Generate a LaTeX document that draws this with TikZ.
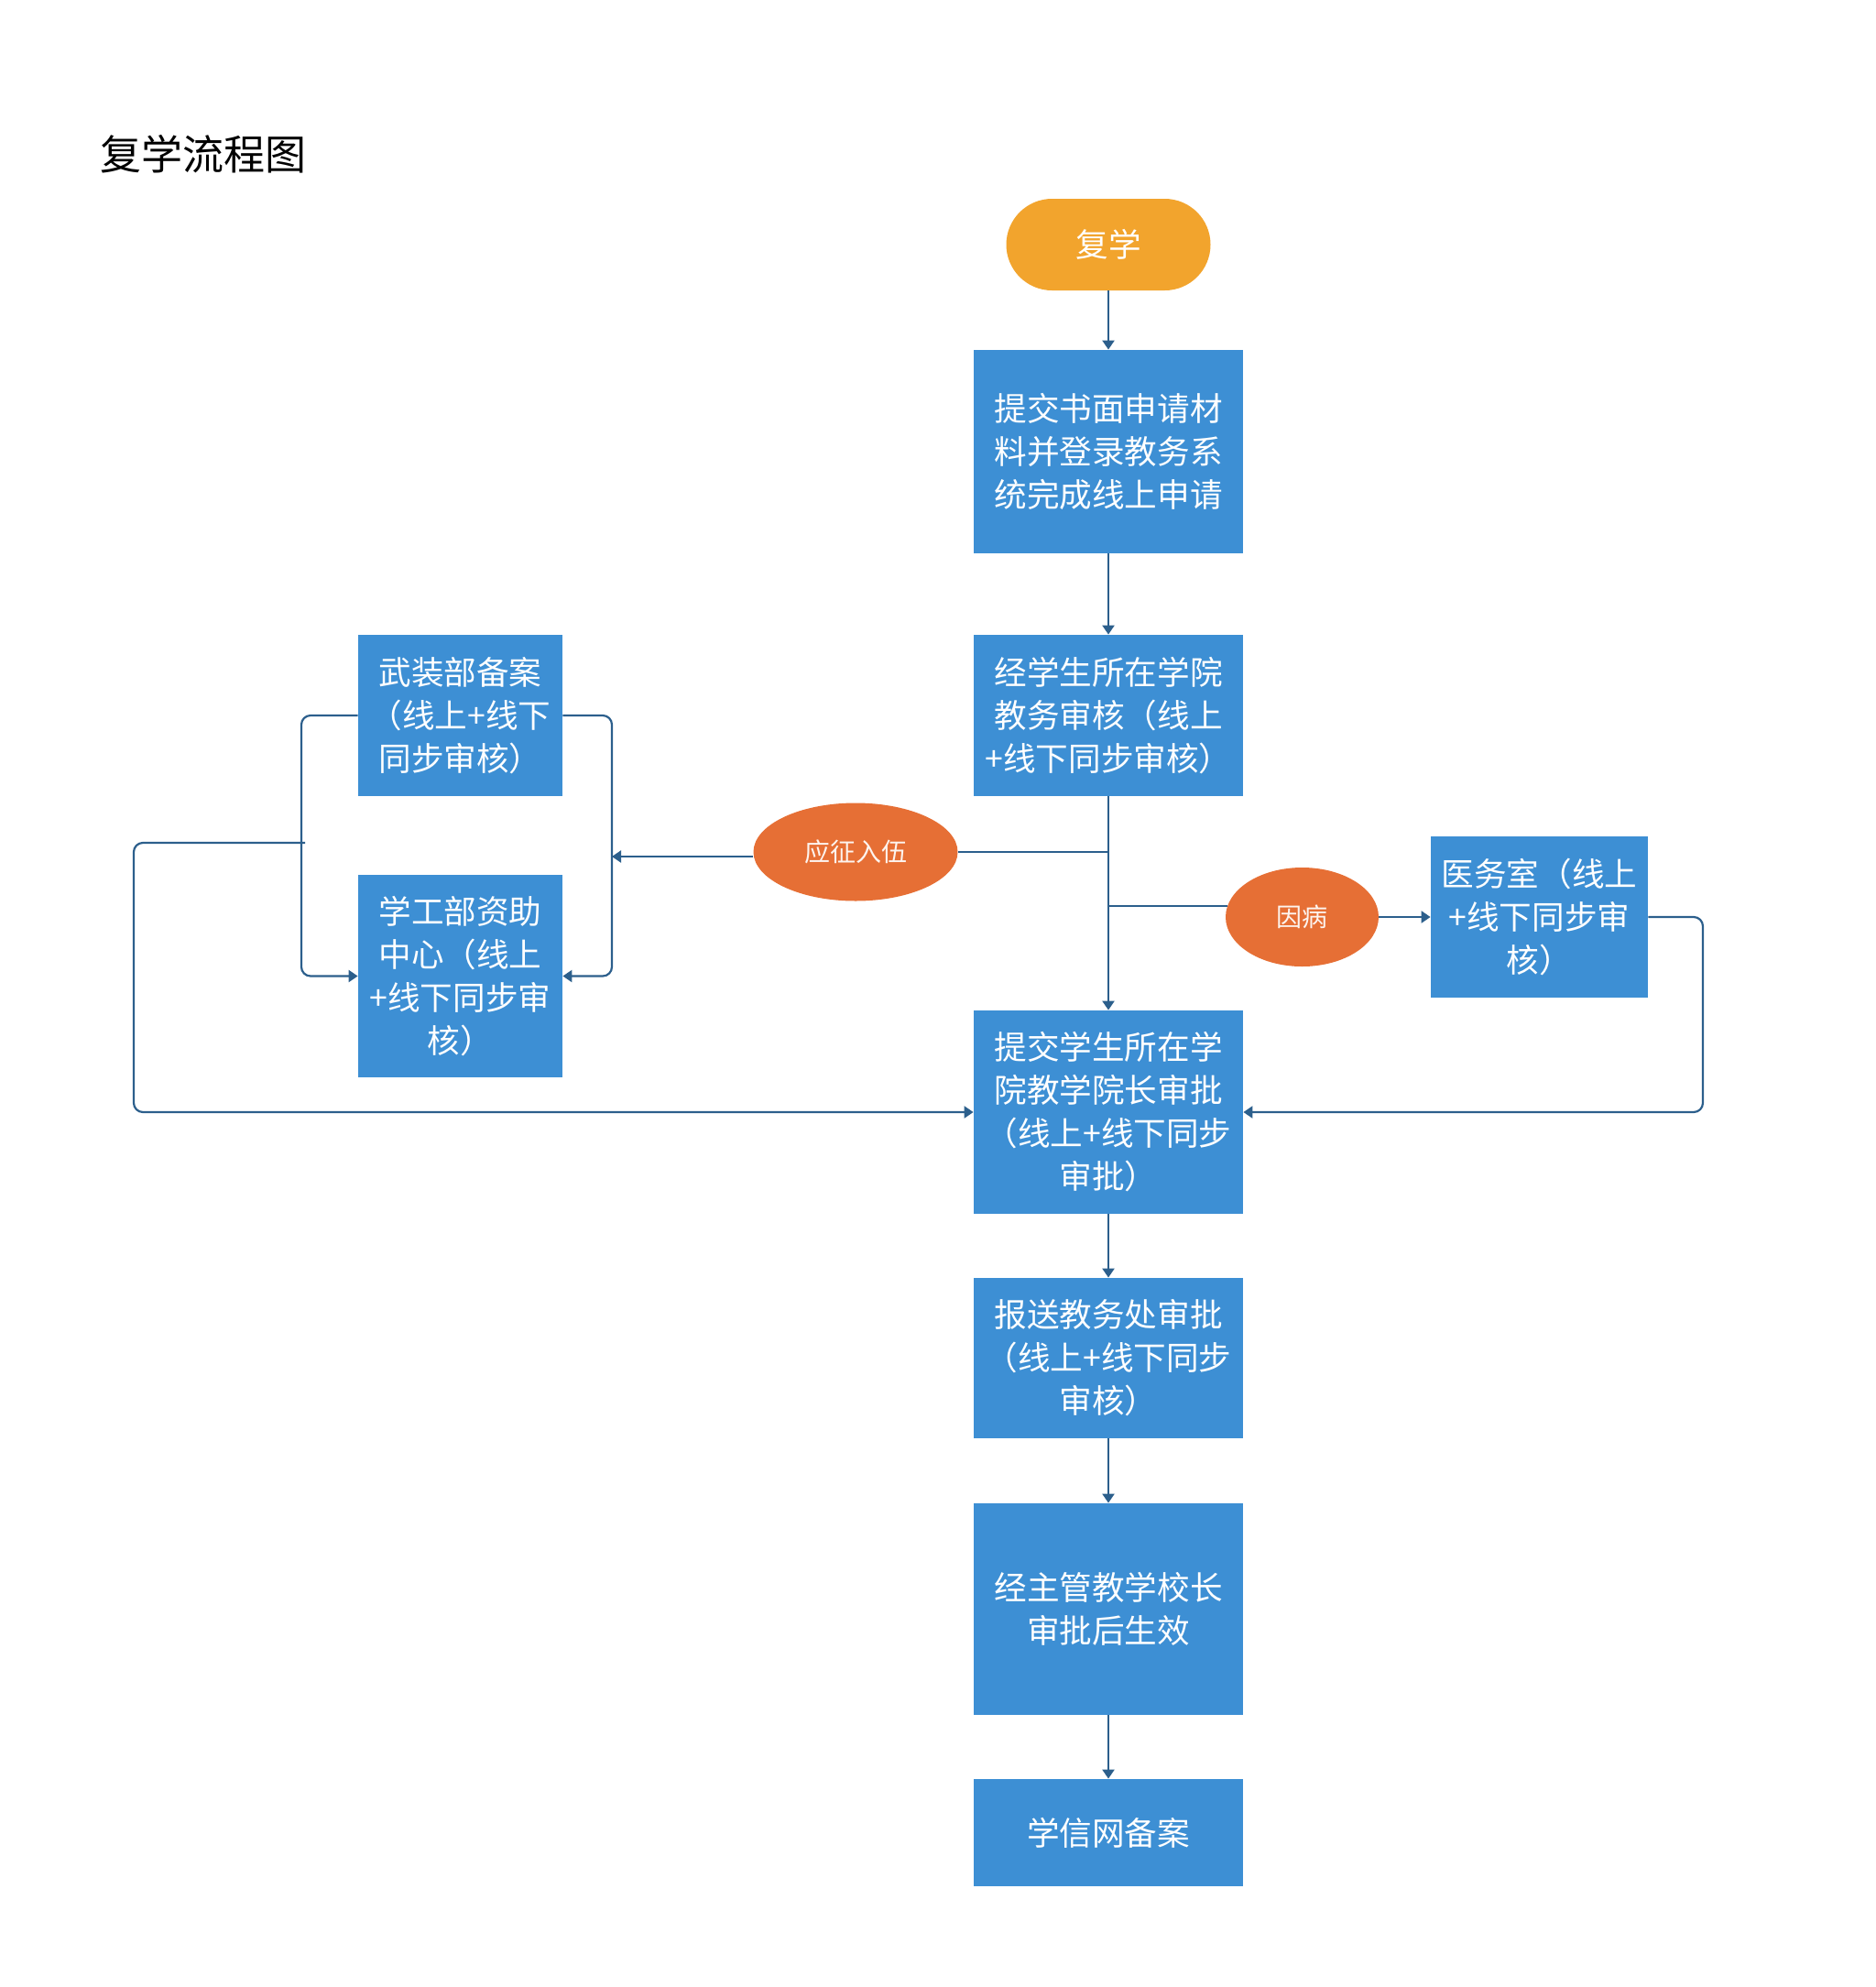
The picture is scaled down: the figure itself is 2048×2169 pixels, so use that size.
\documentclass[tikz,border=0pt]{standalone}
\usepackage{fontspec}
\setmainfont{Noto Sans CJK SC}
\usetikzlibrary{arrows.meta,shapes.geometric,calc}
\definecolor{boxblue}{HTML}{3D8FD4}
\definecolor{startor}{HTML}{F2A42D}
\definecolor{ellor}{HTML}{E66F35}
\definecolor{linec}{HTML}{2C5F8C}
\begin{document}
\begin{tikzpicture}[x=0.5pt,y=-0.5pt,
  box/.style={rectangle, fill=boxblue, text=white, inner sep=0pt, align=center,
    font=\fontsize{17.8pt}{23.5pt}\selectfont},
  startbox/.style={rectangle, rounded corners=25pt, fill=startor, text=white, inner sep=0pt,
    minimum width=111.5pt, minimum height=50pt, font=\fontsize{17.8pt}{23.5pt}\selectfont},
  oval/.style={ellipse, fill=ellor, text=white!92!ellor, inner sep=0pt,
    font=\fontsize{14pt}{18pt}\selectfont},
  ln/.style={draw=linec, line width=1.1pt, rounded corners=5pt},
  arr/.style={ln, -{Triangle[length=5pt,width=6.5pt]}}
]
\useasboundingbox (0,0) rectangle (2048,2169);
\node[anchor=west, font=\fontsize{22.5pt}{27pt}\selectfont, inner sep=0pt] (title) at (109,168) {复学流程图};

\node[startbox] (st) at (1210,267) {复学};
\node[box, minimum width=147pt, minimum height=111pt] (b1) at (1210,493) {提交书面申请材\\料并登录教务系\\统完成线上申请};
\node[box, minimum width=147pt, minimum height=88pt] (b2) at (1210,781) {经学生所在学院\\教务审核（线上\\+线下同步审核）};
\node[box, minimum width=111.5pt, minimum height=88pt] (wz) at (502.5,781) {武装部备案\\（线上+线下\\同步审核）};
\node[box, minimum width=111.5pt, minimum height=110.5pt] (xg) at (502.5,1065.5) {学工部资助\\中心（线上\\+线下同步审\\核）};
\node[oval, minimum width=111.5pt, minimum height=53.5pt] (yz) at (934,930) {应征入伍};
\node[oval, minimum width=83.5pt, minimum height=54pt] (yb) at (1421.5,1001) {因病};
\node[box, minimum width=118.5pt, minimum height=88pt] (ys) at (1680.5,1001) {医务室（线上\\+线下同步审\\核）};
\node[box, minimum width=147pt, minimum height=111pt] (b3) at (1210,1214) {提交学生所在学\\院教学院长审批\\（线上+线下同步\\审批）};
\node[box, minimum width=147pt, minimum height=87.5pt] (b4) at (1210,1482.5) {报送教务处审批\\（线上+线下同步\\审核）};
\node[box, minimum width=147pt, minimum height=115.5pt] (b5) at (1210,1756.5) {经主管教学校长\\审批后生效};
\node[box, minimum width=147pt, minimum height=58.5pt] (b6) at (1210,2000.5) {学信网备案};

\coordinate (rx) at (668,900);
\coordinate (lx) at (329,900);
\coordinate (bl) at (333,920);
\coordinate (bx) at (146,1000);
\coordinate (rr) at (1859,1100);
\coordinate (rj) at (668,935);
\coordinate (j2) at (1210,989);

\draw[arr] (st) -- (b1);
\draw[arr] (b1) -- (b2);
\draw[arr] (b2) -- (b3);
\draw[arr] (b3) -- (b4);
\draw[arr] (b4) -- (b5);
\draw[arr] (b5) -- (b6);

\draw[ln] (yz.east) -- (yz.east -| b2.south);
\draw[arr] (yz.west |- rj) -- (rj);
\draw[arr] (wz.east) -| (rx) |- (xg.east);
\draw[arr] (wz.west) -| (lx) |- (xg.west);
\draw[arr] (bl) -| (bx) |- (b3.west);

\draw[ln] (j2) -- ([xshift=1pt]yb.west |- j2);
\draw[arr] (yb.east) -- (ys.west);
\draw[arr] (ys.east) -| (rr) |- (b3.east);
\end{tikzpicture}
\end{document}
